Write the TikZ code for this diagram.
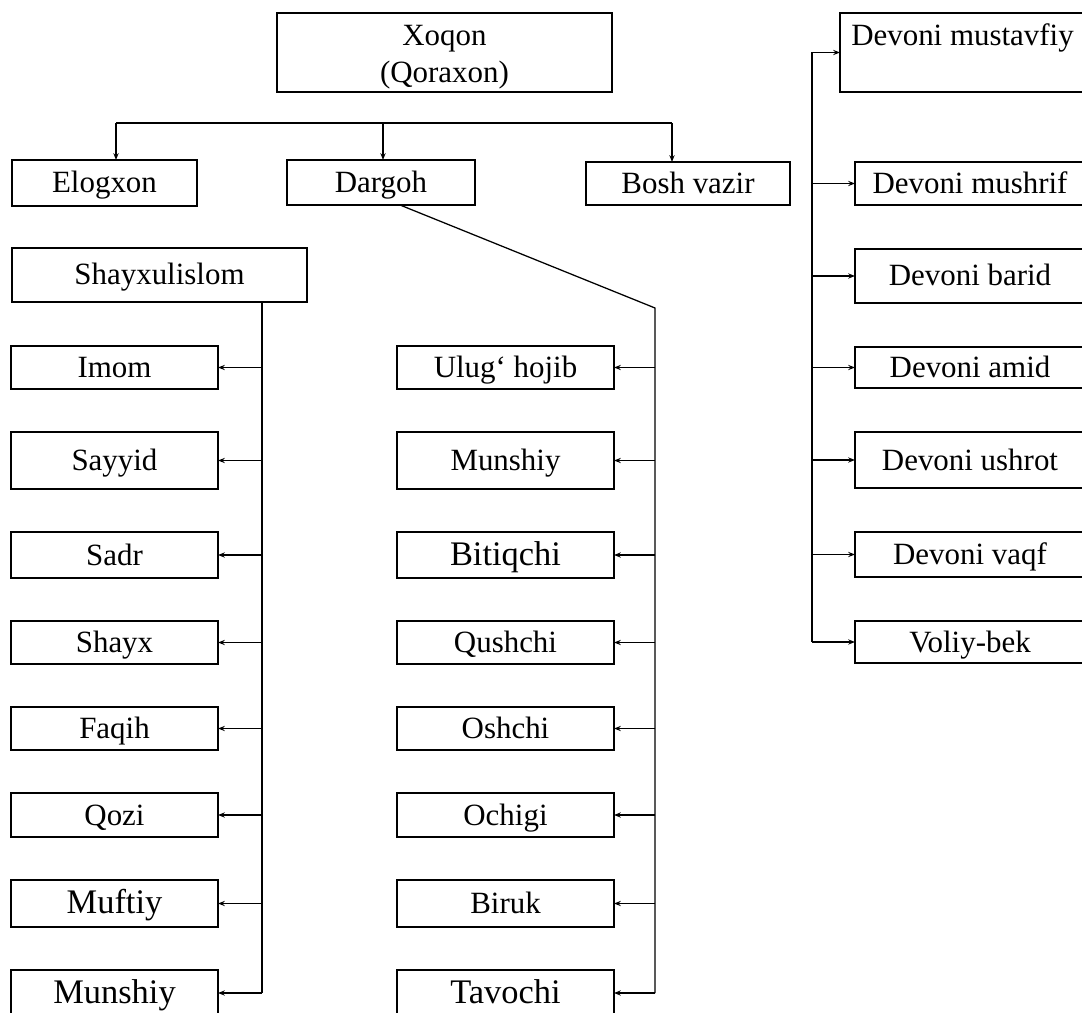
\documentclass[tikz,border=0pt]{standalone}
\usepackage{fontspec}
\setmainfont{Liberation Serif}
\usetikzlibrary{
  arrows.meta,
  positioning,  % Function "of" (e.g. [below=of x])
}
\def\myvdist{1.075cm}
\def\myrdist{1.1cm}
\newcommand{\toproom}[1]{\rule{0pt}{#1}}
\tikzset{
  font=\fontsize{22}{26}\selectfont,
  >={Stealth[length=1.7mm,width=1.3mm]},
  my box/.style={
    draw,
    line width=1.8pt,
    inner sep=0.5mm,
    outer sep=0pt,
    minimum height=1.1cm,
    rectangle
  },
  one line/.style={
    my box,
    text height=0.6cm,
    text depth=0.1cm
  },
  my link/.style={
    line width=0.9pt
  },
  left box/.style={one line, minimum width=5.175cm},
  mid box/.style={one line, minimum width=5.425cm},
  right box/.style={one line, minimum width=5.75cm},
  big text/.style={font=\fontsize{24.5}{28}\selectfont}
}

\begin{document}
\begin{tikzpicture}
\useasboundingbox (0,0) rectangle (27.05,-25.325);
% head and first level
\node[my box,align=center,minimum width=8.375cm,minimum height=1.975cm] (xoqon) at (11.1125,-1.3125) {\toproom{21pt}Xoqon\\(Qoraxon)};
\node[one line,minimum width=4.625cm,minimum height=1.15cm] (elogxon) at (2.6125,-4.575) {Elogxon};
\node[one line,minimum width=4.7cm,minimum height=1.125cm] (dargoh) at (9.525,-4.5625) {Dargoh};
\node[one line,minimum width=5.1cm,minimum height=1.075cm] (boshvazir) at (17.2,-4.5875) {Bosh vazir};
\node[one line,minimum width=7.375cm,minimum height=1.35cm] (shayxulislom) at (3.9875,-6.875) {Shayxulislom};
% left column
\begin{scope}[node distance=\myvdist]
\node[left box,minimum height=1.075cm] (imom) at (2.8625,-9.1875) {Imom};
\node[left box,minimum height=1.425cm] (sayyid) [below=of imom] {Sayyid};
\node[left box,minimum height=1.15cm] (sadr) [below=of sayyid] {Sadr};
\node[left box,minimum height=1.075cm] (shayx) [below=of sadr] {Shayx};
\node[left box,minimum height=1.075cm] (faqih) [below=of shayx] {Faqih};
\node[left box,minimum height=1.1cm] (qozi) [below=of faqih] {Qozi};
\node[left box,big text,minimum height=1.175cm] (muftiy) [below=of qozi] {Muftiy};
\node[left box,big text,minimum height=1.15cm] (munshiyl) [below=of muftiy] {Munshiy};
% middle column
\node[mid box,minimum height=1.075cm] (ulughojib) at (12.6375,-9.1875) {Ulug‘ hojib};
\node[mid box,minimum height=1.425cm] (munshiym) [below=of ulughojib] {Munshiy};
\node[mid box,big text,minimum height=1.15cm] (bitiqchi) [below=of munshiym] {Bitiqchi};
\node[mid box,minimum height=1.075cm] (qushchi) [below=of bitiqchi] {Qushchi};
\node[mid box,minimum height=1.075cm] (oshchi) [below=of qushchi] {Oshchi};
\node[mid box,minimum height=1.1cm] (ochigi) [below=of oshchi] {Ochigi};
\node[mid box,minimum height=1.175cm] (biruk) [below=of ochigi] {Biruk};
\node[mid box,big text,minimum height=1.15cm] (tavochi) [below=of biruk] {Tavochi};
\end{scope}
% right column
\begin{scope}[node distance=\myrdist]
\node[my box,align=center,minimum width=6.125cm,minimum height=1.975cm] (mustavfiy) at (24.0625,-1.3125) {\toproom{15pt}Devoni mustavfiy\\\mbox{}};
\node[right box,minimum height=1.075cm] (mushrif) [below=1.75cm of mustavfiy.south east,anchor=north east] {Devoni mushrif};
\node[right box,minimum height=1.35cm] (barid) [below=of mushrif] {Devoni barid};
\node[right box,minimum height=1.025cm] (amid) [below=of barid] {Devoni amid};
\node[right box,minimum height=1.4cm] (ushrot) [below=of amid] {Devoni ushrot};
\node[right box,minimum height=1.125cm] (vaqf) [below=of ushrot] {Devoni vaqf};
\node[right box,minimum height=1.05cm] (voliybek) [below=of vaqf] {Voliy-bek};
\end{scope}
% connectors
\coordinate (b1) at (2.9,-3.075);
\coordinate (b2) at (9.575,-3.075);
\coordinate (b3) at (16.8,-3.075);
\coordinate (ltrunk) at (6.55,0);
\coordinate (mbend) at (16.375,-7.7);
\coordinate (rtrunk) at (20.3,0);
\draw[my link] (b1) -- (b3);
\path[my link,->] (b1) edge (b1 |- elogxon.north)
                  (b2) edge (b2 |- dargoh.north)
                  (b3) edge (b3 |- boshvazir.north);
\draw[my link] (ltrunk |- shayxulislom.south) -- (ltrunk |- munshiyl);
\draw[my link] ([xshift=0.475cm]dargoh.south) -- (mbend) -- (mbend |- tavochi);
\draw[my link] (rtrunk |- mustavfiy) -- (rtrunk |- voliybek);
\path[my link,->] (ltrunk |- imom) edge (imom)
                  (ltrunk |- sayyid) edge (sayyid)
                  (ltrunk |- sadr) edge (sadr)
                  (ltrunk |- shayx) edge (shayx)
                  (ltrunk |- faqih) edge (faqih)
                  (ltrunk |- qozi) edge (qozi)
                  (ltrunk |- muftiy) edge (muftiy)
                  (ltrunk |- munshiyl) edge (munshiyl);
\path[my link,->] (mbend |- ulughojib) edge (ulughojib)
                  (mbend |- munshiym) edge (munshiym)
                  (mbend |- bitiqchi) edge (bitiqchi)
                  (mbend |- qushchi) edge (qushchi)
                  (mbend |- oshchi) edge (oshchi)
                  (mbend |- ochigi) edge (ochigi)
                  (mbend |- biruk) edge (biruk)
                  (mbend |- tavochi) edge (tavochi);
\path[my link,->] (rtrunk |- mustavfiy) edge (mustavfiy)
                  (rtrunk |- mushrif) edge (mushrif)
                  (rtrunk |- barid) edge (barid)
                  (rtrunk |- amid) edge (amid)
                  (rtrunk |- ushrot) edge (ushrot)
                  (rtrunk |- vaqf) edge (vaqf)
                  (rtrunk |- voliybek) edge (voliybek);
\end{tikzpicture}
\end{document}
